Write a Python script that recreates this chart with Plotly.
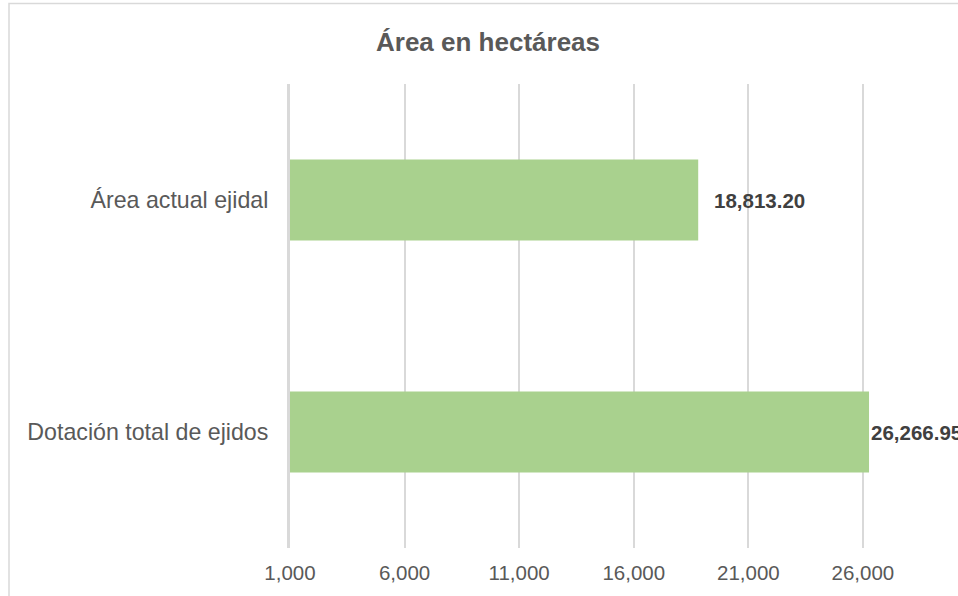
import plotly.graph_objects as go

categories = ["Dotación total de ejidos", "Área actual ejidal"]
values = [26266.95, 18813.20]
value_labels = ["26,266.95", "18,813.20"]
label_shifts = [0, 14]
title_text = "Área en hectáreas"

W, H = 958, 596
ML, MR, MT, MB = 290, 0, 84, 48
GRID = "#d9d9d9"
TXT = "#595959"
FONT = "Liberation Sans, Arial, sans-serif"

fig = go.Figure()
fig.add_trace(go.Bar(
    y=categories, x=values, orientation="h",
    marker=dict(color="#a9d18e", line=dict(width=0)),
    hoverinfo="skip",
))

for c, v, t, s in zip(categories, values, value_labels, label_shifts):
    fig.add_annotation(
        x=v, y=c, xref="x", yref="y", text="<b>%s</b>" % t,
        showarrow=False, xanchor="left", yanchor="middle", xshift=s,
        font=dict(family=FONT, size=20.5, color="#404040"),
    )

pw = W - ML - MR
ph = H - MT - MB
fig.add_shape(
    type="rect", xref="paper", yref="paper",
    x0=(9 - ML) / pw, x1=1.1,
    y0=-0.3, y1=(H - MB - 3.5) / ph,
    line=dict(color=GRID, width=1.5), fillcolor="rgba(0,0,0,0)", layer="below",
)

fig.update_layout(
    width=W, height=H,
    margin=dict(l=ML, r=MR, t=MT, b=MB, pad=0),
    paper_bgcolor="white", plot_bgcolor="white",
    bargap=0.65, showlegend=False,
    title=dict(
        text="<b>%s</b>" % title_text,
        x=488 / W, xref="container", xanchor="center",
        y=1 - 42 / H, yref="container", yanchor="middle",
        font=dict(family=FONT, size=26, color=TXT),
    ),
    font=dict(family=FONT, color=TXT),
    xaxis=dict(
        range=[1000, 30150], tick0=1000, dtick=5000, tickformat=",",
        showgrid=True, gridcolor=GRID, gridwidth=1.5,
        zeroline=False, showline=False, ticks="",
        tickfont=dict(family=FONT, size=20.5, color=TXT),
        ticklabelstandoff=10,
    ),
    yaxis=dict(
        showgrid=False, zeroline=False,
        showline=True, linecolor=GRID, linewidth=3, ticks="",
        tickfont=dict(family=FONT, size=23.2, color=TXT),
        ticklabelstandoff=14,
    ),
)

fig.write_html("out.html")
